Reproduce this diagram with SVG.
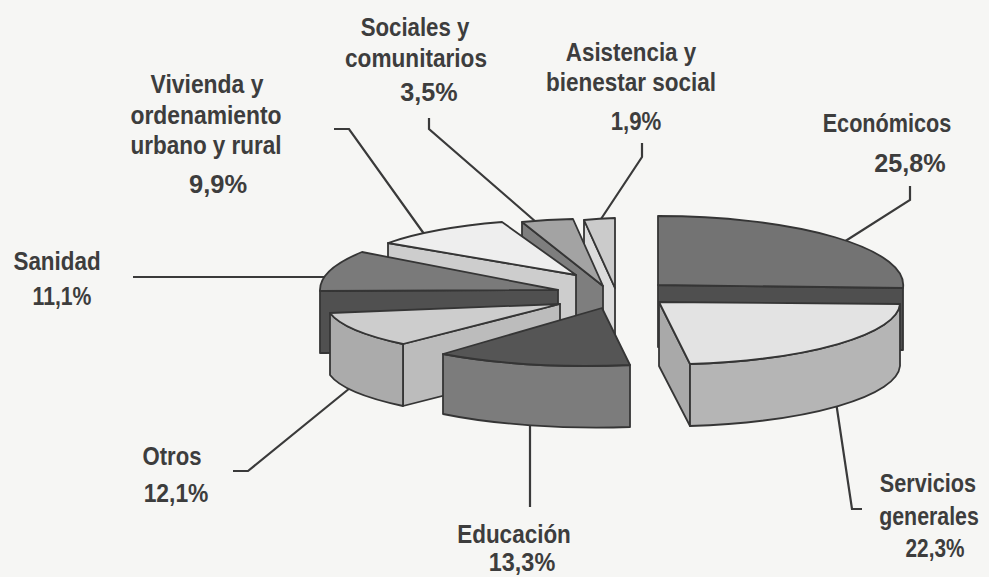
<svg xmlns="http://www.w3.org/2000/svg" width="989" height="577" viewBox="0 0 989 577">
<style>
.o{stroke:#353535;stroke-width:1.8;stroke-linejoin:round}
.c{fill:none;stroke:#3a3a3a;stroke-width:2.2;stroke-linejoin:miter}
text{font-family:"Liberation Sans Narrow","Liberation Sans",Arial,sans-serif;font-weight:bold;font-size:26px;fill:#3d3d3d;text-anchor:middle}
.s{font-size:25px}
</style>
<rect width="989" height="577" fill="#f6f6f4"/>
<g id="connectors">
<polyline class="c" points="334,129 349,129 427,238"/>
<polyline class="c" points="429,118 429,129 536,222"/>
<polyline class="c" points="642,143 642,157 599,222"/>
<polyline class="c" points="910,186 910,200 836,247"/>
<polyline class="c" points="836,402 852,509 862,509"/>
<polyline class="c" points="530,420 530,507"/>
<polyline class="c" points="233,471 248,471 350,388"/>
<polyline class="c" points="133,277 326,277"/>
</g>
<g id="economicos">
<path class="o" fill="#4f4f4f" d="M658,285 L903,288 L903,350 L658,347 Z"/>
<path class="o" fill="#737373" d="M658,285 L658,216 A245,69 0 0 1 903,288 Z"/>
<text transform="translate(887,132) scale(0.83,1)" textLength="155" lengthAdjust="spacingAndGlyphs">Económicos</text>
<text transform="translate(910,172) scale(0.83,1)" textLength="86" lengthAdjust="spacingAndGlyphs">25,8%</text>
</g>
<g id="servicios">
<path class="o" fill="#a9a9a9" d="M659,302 L690,364 L690,426 L659,366 Z"/>
<path class="o" fill="#b5b5b5" d="M900,304 A240,62 0 0 1 690,364 L690,426 A240,62 0 0 0 900,366 Z"/>
<path class="o" fill="#e3e3e3" d="M659,302 L900,304 A240,62 0 0 1 690,364 Z"/>
<text transform="translate(928,492) scale(0.83,1)" textLength="116" lengthAdjust="spacingAndGlyphs">Servicios</text>
<text transform="translate(929,525) scale(0.83,1)" textLength="120" lengthAdjust="spacingAndGlyphs">generales</text>
<text transform="translate(935,557) scale(0.83,1)" textLength="71" lengthAdjust="spacingAndGlyphs">22,3%</text>
</g>
<g id="asistencia">
<path class="o" fill="#dcdcdc" d="M615,288 L584,220 L584,282 L615,350 Z"/>
<path class="o" fill="#cbcbcb" d="M615,288 L584,220 A240,68 0 0 1 615,218 Z"/>
<text transform="translate(631,61) scale(0.83,1)" textLength="157" lengthAdjust="spacingAndGlyphs">Asistencia y</text>
<text transform="translate(631,91) scale(0.83,1)" textLength="205" lengthAdjust="spacingAndGlyphs">bienestar social</text>
<text transform="translate(636,130) scale(0.83,1)" textLength="61" lengthAdjust="spacingAndGlyphs">1,9%</text>
</g>
<g id="sociales">
<path class="o" fill="#7e7e7e" d="M603,286 L522,222 L522,284 L603,348 Z"/>
<path class="o" fill="#a3a3a3" d="M603,286 L522,222 A240,68 0 0 1 573,219 Z"/>
<text transform="translate(415,36) scale(0.83,1)" textLength="131" lengthAdjust="spacingAndGlyphs">Sociales y</text>
<text transform="translate(416,67) scale(0.83,1)" textLength="171" lengthAdjust="spacingAndGlyphs">comunitarios</text>
<text transform="translate(429,101) scale(0.83,1)" textLength="69" lengthAdjust="spacingAndGlyphs">3,5%</text>
</g>
<g id="vivienda">
<path class="o" fill="#cdcdcd" d="M576,275 L388,243 L388,305 L576,337 Z"/>
<path class="o" fill="#eeeeee" d="M576,275 L388,243 A228,56 0 0 1 502,222 Z"/>
<text transform="translate(207,93) scale(0.83,1)" textLength="136" lengthAdjust="spacingAndGlyphs">Vivienda y</text>
<text transform="translate(206,124) scale(0.83,1)" textLength="182" lengthAdjust="spacingAndGlyphs">ordenamiento</text>
<text transform="translate(206,154) scale(0.83,1)" textLength="182" lengthAdjust="spacingAndGlyphs">urbano y rural</text>
<text transform="translate(218,193) scale(0.83,1)" textLength="70" lengthAdjust="spacingAndGlyphs">9,9%</text>
</g>
<g id="sanidad">
<path class="o" fill="#505050" d="M558,290 L320,291 L320,353 L558,352 Z"/>
<path class="o" fill="#7a7a7a" d="M558,290 L320,291 A238,67 0 0 1 362,252 Z"/>
<text transform="translate(57,270) scale(0.83,1)" textLength="105" lengthAdjust="spacingAndGlyphs">Sanidad</text>
<text transform="translate(62,305) scale(0.83,1)" textLength="71" lengthAdjust="spacingAndGlyphs">11,1%</text>
</g>
<g id="otros">
<path class="o" fill="#bcbcbc" d="M560,304 L403,344 L403,406 L560,366 Z"/>
<path class="o" fill="#ababab" d="M403,344 A234,55 0 0 1 330,313 L330,375 A234,55 0 0 0 403,406 Z"/>
<path class="o" fill="#cdcdcd" d="M560,304 L403,344 A234,55 0 0 1 330,313 Z"/>
<text transform="translate(172,465) scale(0.83,1)" textLength="71" lengthAdjust="spacingAndGlyphs">Otros</text>
<text transform="translate(176,502) scale(0.83,1)" textLength="78" lengthAdjust="spacingAndGlyphs">12,1%</text>
</g>
<g id="educacion">
<path class="o" fill="#7c7c7c" d="M630,365 A237,57 0 0 1 443,354 L443,414 A237,57 0 0 0 630,427 Z"/>
<path class="o" fill="#555555" d="M602,308 L630,365 A237,57 0 0 1 443,354 Z"/>
<text class="s" transform="translate(514,543) scale(0.83,1)" textLength="137" lengthAdjust="spacingAndGlyphs">Educación</text>
<text class="s" transform="translate(522,571) scale(0.83,1)" textLength="80" lengthAdjust="spacingAndGlyphs">13,3%</text>
</g>
</svg>
